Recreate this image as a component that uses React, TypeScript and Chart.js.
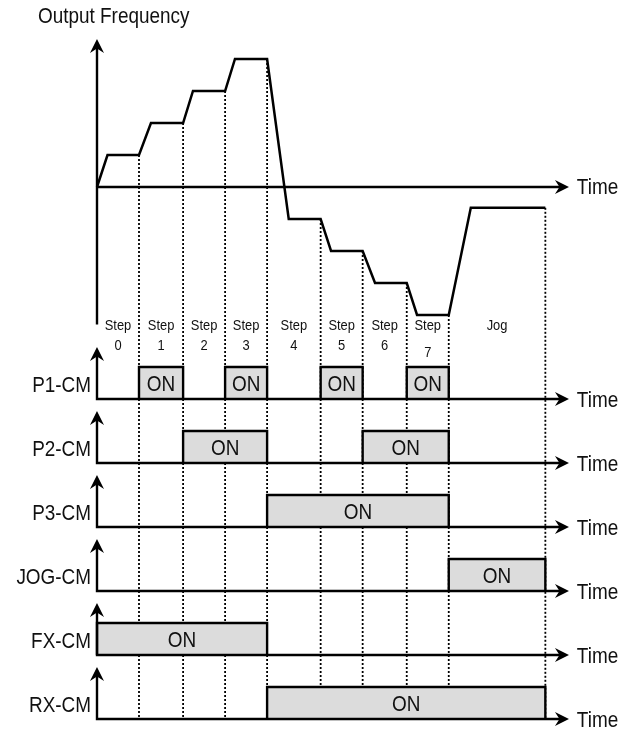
import React, { useEffect, useRef } from 'react';
import { Chart, registerables } from 'chart.js';

Chart.register(...registerables);

// ---- data ----
// step boundaries on the time axis (steps 0..7 and Jog)
const STEP_BOUNDS = [0, 4, 8.2, 12.2, 16.2, 21.3, 25.3, 29.5, 33.5, 42.7];
const STEP_NAMES = ['Step', 'Step', 'Step', 'Step', 'Step', 'Step', 'Step', 'Step', 'Jog'];
const STEP_NUMS = ['0', '1', '2', '3', '4', '5', '6', '7', ''];

// output frequency profile
const FREQ_TIMES = [0, 1, 4, 5.14, 8.2, 9.14, 12.2, 13.14, 16.2, 18.26, 21.3, 22.29, 25.3, 26.48, 29.5, 30.48, 33.5, 35.6, 42.7];
const FREQ_VALUES = [0, 1, 1, 2, 2, 3, 3, 4, 4, -1, -1, -2, -2, -3, -3, -4, -4, -0.65, -0.65];

// input signals and their ON intervals (as step-interval index ranges)
const SIGNALS = ['P1-CM', 'P2-CM', 'P3-CM', 'JOG-CM', 'FX-CM', 'RX-CM'];
const P1_ON = [[1, 2], [3, 4], [5, 6], [7, 8]];
const P2_ON = [[2, 4], [6, 8]];
const P3_ON = [[4, 8]];
const JOG_ON = [[8, 9]];
const FX_ON = [[0, 4]];
const RX_ON = [[4, 9]];
const ON_INTERVALS = [P1_ON, P2_ON, P3_ON, JOG_ON, FX_ON, RX_ON];

// ---- layout (in axis units) ----
const X_MIN = -9.238;
const X_MAX = 51.619;
const Y_MIN = -17;
const Y_MAX = 5.84375;
const TIME_END = 44.95;
const FREQ_AXIS_TOP = 4.625;
const FREQ_AXIS_BOTTOM = -4.3;
const FIRST_BASE = -6.625;
const ROW_GAP = 2;
const ON_H = 1;
const ROW_AXIS_H = 1.625;

const FONT = '"Liberation Sans", Arial, sans-serif';
const NARROW = 0.86;
const TEXT_COLOR = '#111';
const BOX_FILL = '#dcdcdc';

const rowBase = (r: number) => FIRST_BASE - ROW_GAP * r;
const freqAt = (t: number) => {
  const i = FREQ_TIMES.indexOf(t);
  return i >= 0 ? FREQ_VALUES[i] : 0;
};

function drawArrow(ctx: CanvasRenderingContext2D, x: number, y: number, dir: 'up' | 'right') {
  const L = 14, H = 7, N = 9.5;
  ctx.save();
  ctx.translate(x, y);
  if (dir === 'up') ctx.rotate(-Math.PI / 2);
  ctx.beginPath();
  ctx.moveTo(0, 0);
  ctx.lineTo(-L, -H);
  ctx.lineTo(-N, 0);
  ctx.lineTo(-L, H);
  ctx.closePath();
  ctx.fillStyle = '#000';
  ctx.fill();
  ctx.restore();
}

function text(ctx: CanvasRenderingContext2D, s: string, x: number, y: number, align: CanvasTextAlign) {
  ctx.save();
  ctx.translate(x, y);
  ctx.scale(NARROW, 1);
  ctx.textAlign = align;
  ctx.fillText(s, 0, 0);
  ctx.restore();
}

const annotPlugin = {
  id: 'annot',
  afterDatasetsDraw(chart: any) {
    const { ctx } = chart;
    const xs = chart.scales.x;
    const ys = chart.scales.y;
    const px = (v: number) => xs.getPixelForValue(v);
    const py = (v: number) => ys.getPixelForValue(v);

    // arrows
    drawArrow(ctx, px(0), py(FREQ_AXIS_TOP), 'up');
    drawArrow(ctx, px(TIME_END), py(0), 'right');
    SIGNALS.forEach((_, r) => {
      drawArrow(ctx, px(0), py(rowBase(r) + ROW_AXIS_H), 'up');
      drawArrow(ctx, px(TIME_END), py(rowBase(r)), 'right');
    });

    ctx.save();
    ctx.fillStyle = TEXT_COLOR;
    ctx.textBaseline = 'middle';
    ctx.font = `22px ${FONT}`;
    text(ctx, 'Output Frequency', px(-5.62), py(5.3), 'left');
    text(ctx, 'Time', px(45.7), py(-0.03), 'left');

    SIGNALS.forEach((name, r) => {
      const b = rowBase(r);
      text(ctx, name, px(-0.57), py(b + 0.4), 'right');
      text(ctx, 'Time', px(45.7), py(b - 0.06), 'left');
      ON_INTERVALS[r].forEach(([a, c]) => {
        const mid = (STEP_BOUNDS[a] + STEP_BOUNDS[c]) / 2;
        text(ctx, 'ON', px(mid), py(b + 0.45), 'center');
      });
    });

    // step labels
    ctx.font = `15px ${FONT}`;
    STEP_NAMES.forEach((nm, i) => {
      const mid = (STEP_BOUNDS[i] + STEP_BOUNDS[i + 1]) / 2;
      text(ctx, nm, px(mid), py(-4.34), 'center');
      if (STEP_NUMS[i]) text(ctx, STEP_NUMS[i], px(mid), py(i === 7 ? -5.19 : -4.96), 'center');
    });
    ctx.restore();
  },
};

export default function App() {
  const ref = useRef<HTMLCanvasElement | null>(null);
  useEffect(() => {
    document.body.style.margin = '0';
    const canvas = ref.current;
    if (!canvas) return;
    const line = (data: { x: number; y: number }[], extra: any = {}) => ({
      type: 'line',
      data,
      borderColor: '#000',
      borderWidth: 2.4,
      pointRadius: 0,
      showLine: true,
      fill: false,
      tension: 0,
      order: 10,
      ...extra,
    });
    const datasets: any[] = [];
    const lastBase = rowBase(SIGNALS.length - 1);

    // dotted step boundaries
    STEP_BOUNDS.slice(1).forEach((t) => {
      datasets.push(
        line(
          [
            { x: t, y: freqAt(t) },
            { x: t, y: lastBase },
          ],
          { borderWidth: 1.8, borderDash: [2, 2], order: 30 }
        )
      );
    });

    // ON boxes
    ON_INTERVALS.forEach((ivs, r) => {
      const b = rowBase(r);
      ivs.forEach(([a, c]) => {
        const x0 = STEP_BOUNDS[a];
        const x1 = STEP_BOUNDS[c];
        datasets.push(
          line(
            [
              { x: x0, y: b },
              { x: x0, y: b + ON_H },
              { x: x1, y: b + ON_H },
              { x: x1, y: b },
            ],
            { fill: { value: b }, backgroundColor: BOX_FILL, order: 20, borderJoinStyle: 'miter' }
          )
        );
      });
    });

    // axes
    datasets.push(line([{ x: 0, y: FREQ_AXIS_BOTTOM }, { x: 0, y: FREQ_AXIS_TOP - 0.2 }]));
    datasets.push(line([{ x: 0, y: 0 }, { x: TIME_END - 0.6, y: 0 }]));
    SIGNALS.forEach((_, r) => {
      const b = rowBase(r);
      datasets.push(
        line(
          [
            { x: 0, y: b + ROW_AXIS_H - 0.2 },
            { x: 0, y: b },
            { x: TIME_END - 0.6, y: b },
          ],
          { borderJoinStyle: 'miter' }
        )
      );
    });

    // frequency profile
    datasets.push(
      line(
        FREQ_TIMES.map((t, i) => ({ x: t, y: FREQ_VALUES[i] })),
        { borderWidth: 2.5, order: 5, borderJoinStyle: 'miter' }
      )
    );

    const chart = new Chart(canvas, {
      type: 'scatter',
      data: { datasets },
      options: {
        animation: false,
        responsive: false,
        maintainAspectRatio: false,
        layout: { padding: 0 },
        plugins: { legend: { display: false }, tooltip: { enabled: false }, title: { display: false } },
        events: [],
        scales: {
          x: { type: 'linear', min: X_MIN, max: X_MAX, display: false },
          y: { type: 'linear', min: Y_MIN, max: Y_MAX, display: false },
        },
      },
      plugins: [annotPlugin],
    } as any);
    return () => chart.destroy();
  }, []);
  return (
    <div style={{ width: 639, height: 731, background: '#fff' }}>
      <canvas ref={ref} width={639} height={731} style={{ display: 'block' }} />
    </div>
  );
}
